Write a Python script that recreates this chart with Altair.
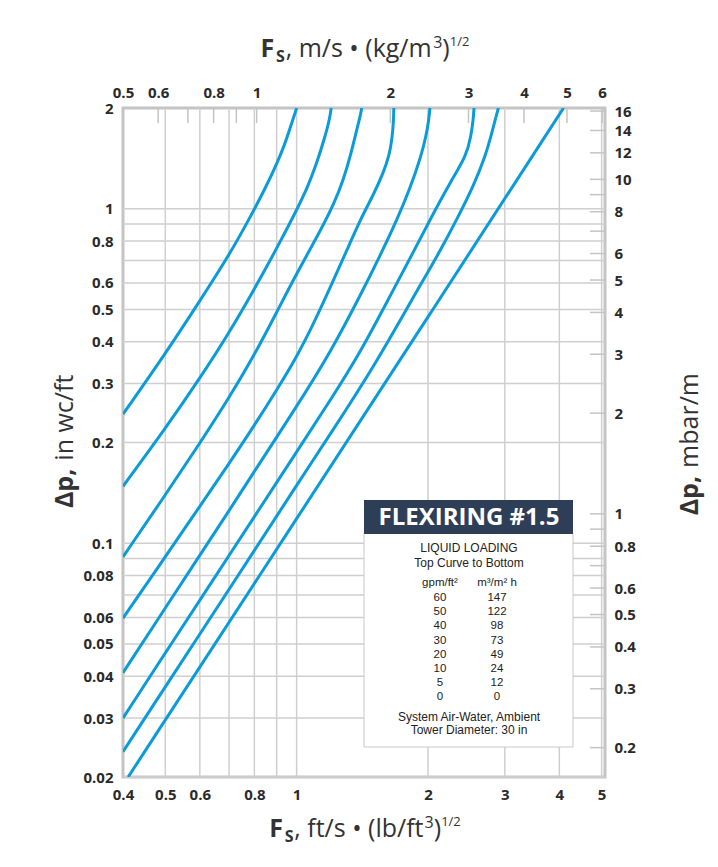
import altair as alt
import pandas as pd

# ---------------- data ----------------
# bottom axis: Fs, ft/s (lb/ft3)^1/2   left axis: dp, in wc/ft
loading_gpm = [60, 50, 40, 30, 20, 10, 5, 0]
loading_m3 = [147, 122, 98, 73, 49, 24, 12, 0]

c60_fs = [0.40, 0.50, 0.60, 0.70, 0.79, 0.85, 0.90, 0.94, 0.97, 1.00]
c60_dp = [0.243, 0.368, 0.53, 0.725, 0.965, 1.16, 1.36, 1.56, 1.77, 2.0]
c50_fs = [0.40, 0.50, 0.60, 0.70, 0.80, 0.90, 1.00, 1.06, 1.11, 1.16, 1.19, 1.20]
c50_dp = [0.148, 0.22, 0.311, 0.425, 0.575, 0.76, 0.99, 1.16, 1.36, 1.63, 1.85, 2.0]
c40_fs = [0.40, 0.49, 0.60, 0.70, 0.80, 0.90, 1.00, 1.14, 1.22, 1.28, 1.33, 1.37, 1.40, 1.41]
c40_dp = [0.091, 0.134, 0.199, 0.272, 0.365, 0.49, 0.64, 0.87, 1.04, 1.22, 1.45, 1.7, 1.9, 2.0]
c30_fs = [0.40, 0.50, 0.60, 0.70, 0.80, 0.90, 1.00, 1.10, 1.20, 1.30, 1.40, 1.50, 1.58, 1.63, 1.655, 1.667, 1.67]
c30_dp = [0.0597, 0.091, 0.129, 0.173, 0.225, 0.287, 0.36, 0.46, 0.59, 0.745, 0.93, 1.10, 1.28, 1.44, 1.62, 1.82, 2.0]
c20_fs = [0.40, 0.50, 0.60, 0.70, 0.80, 1.00, 1.20, 1.409, 1.55, 1.70, 1.82, 1.93, 1.98, 2.01, 2.02]
c20_dp = [0.041, 0.064, 0.092, 0.125, 0.164, 0.256, 0.375, 0.56, 0.72, 0.93, 1.15, 1.44, 1.65, 1.85, 2.0]
c10_fs = [0.40, 0.50, 0.60, 0.80, 1.00, 1.20, 1.40, 1.651, 1.85, 2.05, 2.25, 2.45, 2.51, 2.54, 2.55]
c10_dp = [0.030, 0.047, 0.0675, 0.12, 0.1875, 0.27, 0.372, 0.56, 0.74, 0.96, 1.2, 1.44, 1.65, 1.85, 2.0]
c5_fs = [0.40, 0.50, 0.60, 0.80, 1.00, 1.20, 1.50, 1.874, 2.10, 2.35, 2.55, 2.71, 2.80, 2.86, 2.90]
c5_dp = [0.0238, 0.0372, 0.0535, 0.095, 0.149, 0.214, 0.335, 0.56, 0.72, 0.95, 1.18, 1.44, 1.68, 1.87, 2.0]
c0_fs = [0.411, 1.0, 2.0, 4.09]
c0_dp = [0.02, 0.1184, 0.474, 2.0]

curves_fs = [c60_fs, c50_fs, c40_fs, c30_fs, c20_fs, c10_fs, c5_fs, c0_fs]
curves_dp = [c60_dp, c50_dp, c40_dp, c30_dp, c20_dp, c10_dp, c5_dp, c0_dp]

x_label_vals = [0.4, 0.5, 0.6, 0.8, 1, 2, 3, 4, 5]
x_grid_vals = [0.5, 0.6, 0.7, 0.8, 0.9, 1, 2, 3, 4, 5]
y_label_vals = [0.02, 0.03, 0.04, 0.05, 0.06, 0.08, 0.1, 0.2, 0.3, 0.4, 0.5, 0.6, 0.8, 1, 2]
y_grid_vals = [0.02, 0.03, 0.04, 0.05, 0.06, 0.07, 0.08, 0.09, 0.1,
               0.2, 0.3, 0.4, 0.5, 0.6, 0.7, 0.8, 0.9, 1]
top_label_vals = [0.5, 0.6, 0.8, 1, 2, 3, 4, 5, 6]
top_tick_vals = [0.5, 0.6, 0.7, 0.8, 0.9, 1, 2, 3, 4, 5, 6]
right_label_vals = [16, 14, 12, 10, 8, 6, 5, 4, 3, 2, 1, 0.8, 0.6, 0.5, 0.4, 0.3, 0.2]
right_tick_vals = [16, 14, 12, 10, 9, 8, 7, 6, 5, 4, 3, 2, 1, 0.9, 0.8, 0.7, 0.6, 0.5, 0.4, 0.3, 0.2]

# ---------------- layout ----------------
W, H = 482, 669
BLUE = "#0a9bd8"
GRID = "#cfcfcf"
NAVY = "#2e3e57"
TXT = "#2a2a2a"
FONT = "Open Sans"
NARROW = "Liberation Sans Narrow, Liberation Sans, Arial"

xs = alt.Scale(type="log", domain=[0.4, 5.09], nice=False)
ys = alt.Scale(type="log", domain=[0.02, 2.0], nice=False)
xs_top = alt.Scale(type="log", domain=[0.5, 6.09], nice=False)
ys_right = alt.Scale(type="log", domain=[0.1634, 16.34], nice=False)

lab = dict(labelFont=FONT, labelFontWeight="bold", labelFontSize=15, labelColor=TXT,
           labelFlush=False, labelOverlap=False, title=None, grid=False, ticks=False,
           domain=False, format="~g")
ax_b = alt.Axis(orient="bottom", values=x_label_vals, labelPadding=10, **lab)
ax_l = alt.Axis(orient="left", values=y_label_vals, labelPadding=10, **lab)
ax_t = alt.Axis(orient="top", values=top_label_vals, labelPadding=8, **lab)
ax_r = alt.Axis(orient="right", values=right_label_vals, labelPadding=9, **lab)

dummy = pd.DataFrame({"a": [0]})

vgrid = alt.Chart(pd.DataFrame({"fs": x_grid_vals})).mark_rule(
    color=GRID, strokeWidth=1.5).encode(x=alt.X("fs:Q", scale=xs, axis=ax_b))
hgrid = alt.Chart(pd.DataFrame({"dp": y_grid_vals})).mark_rule(
    color=GRID, strokeWidth=1.5).encode(y=alt.Y("dp:Q", scale=ys, axis=ax_l))

rows = []
for k, (fsl, dpl) in enumerate(zip(curves_fs, curves_dp)):
    for f, d in zip(fsl, dpl):
        rows.append({"load": loading_gpm[k], "fs": f, "dp": d})
curve_df = pd.DataFrame(rows)
lines = alt.Chart(curve_df).mark_line(
    color=BLUE, strokeWidth=3, interpolate="basis", clip=True).encode(
    x=alt.X("fs:Q", scale=xs, axis=ax_b),
    y=alt.Y("dp:Q", scale=ys, axis=ax_l),
    detail="load:N")

# legend box
bx0, bx1 = 241, 450
box = alt.Chart(dummy).mark_rect(fill="white", stroke="#c8c8c8", strokeWidth=1).encode(
    x=alt.value(bx0), x2=alt.value(bx1), y=alt.value(425), y2=alt.value(639))
head = alt.Chart(dummy).mark_rect(fill=NAVY).encode(
    x=alt.value(bx0), x2=alt.value(bx1), y=alt.value(392), y2=alt.value(426))
head_txt = alt.Chart(dummy).mark_text(
    text="FLEXIRING #1.5", font=FONT, fontWeight="bold", fontSize=24, color="white",
    align="center", baseline="middle").encode(x=alt.value(346), y=alt.value(410))

def ntext(s, x, y, size=11.5):
    return alt.Chart(dummy).mark_text(text=s, font=NARROW, fontSize=size, color="#222",
                                      align="center", baseline="middle").encode(
        x=alt.value(x), y=alt.value(y))

leg_txt = [
    ntext("LIQUID LOADING", 346, 440, 12),
    ntext("Top Curve to Bottom", 346, 455, 12),
    ntext("gpm/ft²", 317, 475),
    ntext("m³/m² h", 374, 475),
    ntext("System Air-Water, Ambient", 346, 609, 12),
    ntext("Tower Diameter: 30 in", 346, 622, 12),
]
tab = pd.DataFrame({"gpm": [str(v) for v in loading_gpm],
                    "m3": [str(v) for v in loading_m3],
                    "row": list(range(len(loading_gpm)))})
tab["yp"] = 490 + tab["row"] * 14.2
col_gpm = alt.Chart(tab).mark_text(font=NARROW, fontSize=11.5, color="#222", align="center",
                                   baseline="middle").encode(
    x=alt.value(317), y=alt.Y("yp:Q", scale=None), text="gpm:N")
col_m3 = alt.Chart(tab).mark_text(font=NARROW, fontSize=11.5, color="#222", align="center",
                                  baseline="middle").encode(
    x=alt.value(374), y=alt.Y("yp:Q", scale=None), text="m3:N")

# ---------------- axis titles (pieces) ----------------
CW = {"F": .58, "S": .56, ",": .26, " ": .26, "m": .93, "/": .37, "s": .48, "•": .40,
      "(": .30, ")": .30, "k": .52, "g": .56, "f": .34, "t": .35, "l": .26, "b": .61,
      "3": .57, "1": .57, "2": .57, "i": .26, "n": .61, "w": .80, "c": .48, "a": .56,
      "r": .41, "Δ": .66, "p": .61}

def tw(s, size, bold):
    return sum(CW.get(ch, .55) for ch in s) * size * (1.07 if bold else 1.0)

def hpieces(pieces, cx, base):
    total = sum(tw(s, sz, b) for s, sz, b, dy in pieces)
    x = cx - total / 2
    out = []
    for s, sz, b, dy in pieces:
        lead = len(s) - len(s.lstrip(" "))
        out.append(alt.Chart(dummy).mark_text(
            text=s.lstrip(" "), font=FONT, fontSize=sz, fontWeight="bold" if b else "normal",
            color="#333", align="left", baseline="alphabetic").encode(
            x=alt.value(x + lead * CW[" "] * sz), y=alt.value(base + dy)))
        x += tw(s, sz, b)
    return out

def vpieces(pieces, cxx, cy):
    total = sum(tw(s, sz, b) for s, sz, b in pieces)
    y = cy + total / 2
    out = []
    for s, sz, b in pieces:
        lead = len(s) - len(s.lstrip(" "))
        out.append(alt.Chart(dummy).mark_text(
            text=s.lstrip(" "), font=FONT, fontSize=sz, fontWeight="bold" if b else "normal",
            color="#333", align="left", baseline="middle", angle=270).encode(
            x=alt.value(cxx), y=alt.value(y - lead * CW[" "] * sz)))
        y -= tw(s, sz, b)
    return out

top_title = hpieces([("F", 25, True, 0), ("S", 16, True, 5), (", m/s • (kg/m", 25, False, 0),
                     ("3", 16, False, -9), (")", 25, False, 0), ("1/2", 13, False, -11)],
                    242, -51)
bot_title = hpieces([("F", 25, True, 0), ("S", 16, True, 5), (", ft/s • (lb/ft", 25, False, 0),
                     ("3", 16, False, -9), (")", 25, False, 0), ("1/2", 13, False, -11)],
                    242, 729)
left_title = vpieces([("Δp,", 25, True), (" in wc/ft", 25, False)], -58, 333)
right_title = vpieces([("Δp,", 25, True), (" mbar/m", 25, False)], 567, 336)

main = alt.layer(vgrid, hgrid, lines, box, head, head_txt, *leg_txt, col_gpm, col_m3,
                 *top_title, *bot_title, *left_title, *right_title)

top_layer = alt.Chart(pd.DataFrame({"t": top_tick_vals})).mark_rule(
    color="#c4c4c4", strokeWidth=1.5).encode(
    x=alt.X("t:Q", scale=xs_top, axis=ax_t), y=alt.value(0), y2=alt.value(15))
right_layer = alt.Chart(pd.DataFrame({"r": right_tick_vals})).mark_rule(
    color="#c4c4c4", strokeWidth=1.5).encode(
    y=alt.Y("r:Q", scale=ys_right, axis=ax_r), x=alt.value(W - 15), x2=alt.value(W))

chart = alt.layer(main, top_layer, right_layer).resolve_scale(
    x="independent", y="independent").properties(
    width=W, height=H,
    padding={"left": 115, "top": 100, "right": 105, "bottom": 70},
    autosize=alt.AutoSizeParams(type="none"),
    background="white",
).configure_view(stroke="#c4c4c4", strokeWidth=3)

chart.save("out.html", embed_options={"renderer": "svg", "actions": False})
